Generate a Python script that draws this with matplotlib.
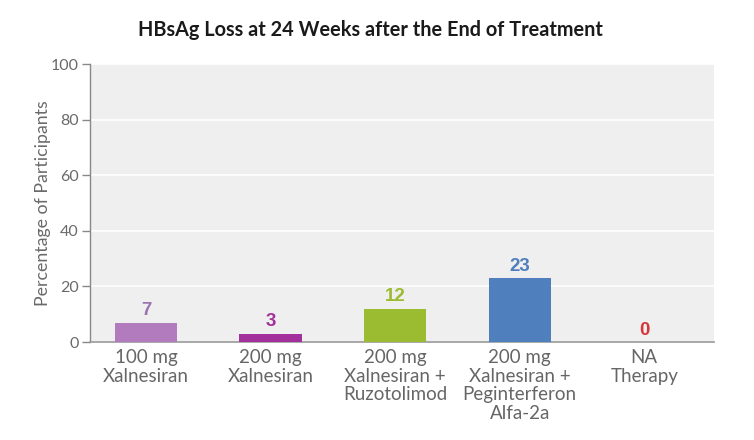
import matplotlib
matplotlib.use("Agg")
import matplotlib.pyplot as plt

categories = ["100 mg\nXalnesiran", "200 mg\nXalnesiran", "200 mg\nXalnesiran +\nRuzotolimod",
              "200 mg\nXalnesiran +\nPeginterferon\nAlfa-2a", "NA\nTherapy"]
values = [7, 3, 12, 23, 0]
bar_colors = ["#b27bbd", "#a3319b", "#9bbb30", "#4f7fbd", "#d4383b"]
label_colors = ["#9a74ad", "#a3319b", "#9bbb30", "#4f7fbd", "#d4383b"]
yticks = [0, 20, 40, 60, 80, 100]
title = "HBsAg Loss at 24 Weeks after the End of Treatment"
ylabel = "Percentage of Participants"

plt.rcParams['font.family'] = ['Lato', 'DejaVu Sans']

fig = plt.figure(figsize=(7.54, 4.40), dpi=100)
ax = fig.add_axes([90/754, 1-342/440, (714-90)/754, (342-64)/440])
ax.set_facecolor("#efefef")

x = list(range(len(categories)))
ax.bar(x, values, width=0.5, color=bar_colors, zorder=3)
for xi, v, c in zip(x, values, label_colors):
    ax.text(xi, v + 1.2, str(v), ha="center", va="bottom", color=c,
            fontsize=13.5, fontweight="bold", family=["Liberation Sans", "DejaVu Sans"], zorder=4)

ax.set_xlim(-0.45, 4.56)
ax.set_ylim(0, 100)
ax.set_yticks(yticks)
ax.set_xticks(x)
ax.set_xticklabels(categories, fontsize=13.5, color="#666666", linespacing=1.12)
ax.tick_params(axis="x", length=0, pad=5)
ax.tick_params(axis="y", length=6, width=1, color="#888888", labelcolor="#6a6a6a",
               labelsize=11.5, pad=2)
ax.yaxis.grid(True, color="white", linewidth=1.2, zorder=1)
ax.set_axisbelow(True)
for s in ["top", "right"]:
    ax.spines[s].set_visible(False)
ax.spines["left"].set_color("#888888")
ax.spines["bottom"].set_color("#999999")
ax.spines["left"].set_linewidth(1)
ax.spines["bottom"].set_linewidth(1.2)

ax.set_ylabel(ylabel, fontsize=12.8, color="#6a6a6a", labelpad=0)
fig.text(370/754, 1-30/440, title, ha="center", va="center", fontsize=14.3,
         fontweight="bold", color="#1a1a1a")

fig.savefig("out.png", dpi=100)
